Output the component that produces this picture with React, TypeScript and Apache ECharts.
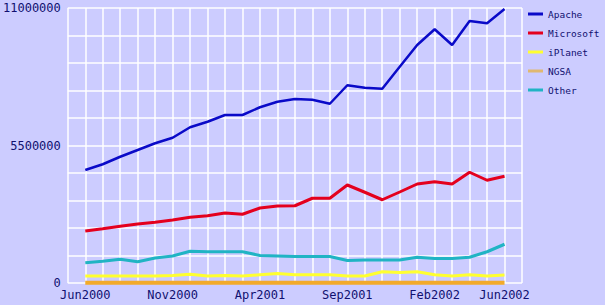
import React, { useEffect, useRef } from "react";
import * as echarts from "echarts";

const months = [
  "Jun2000", "Jul2000", "Aug2000", "Sep2000", "Oct2000", "Nov2000", "Dec2000",
  "Jan2001", "Feb2001", "Mar2001", "Apr2001", "May2001", "Jun2001", "Jul2001",
  "Aug2001", "Sep2001", "Oct2001", "Nov2001", "Dec2001", "Jan2002", "Feb2002",
  "Mar2002", "Apr2002", "May2002", "Jun2002",
];
const tickLabels = ["Jun2000", "Nov2000", "Apr2001", "Sep2001", "Feb2002", "Jun2002"];
const yTickLabels = [0, 5500000, 11000000];

const apache = [
  4520000, 4750000, 5050000, 5320000, 5590000, 5810000, 6230000, 6450000, 6720000,
  6720000, 7030000, 7250000, 7360000, 7330000, 7170000, 7910000, 7810000, 7770000,
  8650000, 9520000, 10150000, 9520000, 10480000, 10390000, 10960000,
];
const microsoft = [
  2080000, 2170000, 2270000, 2360000, 2430000, 2520000, 2630000, 2690000, 2800000,
  2750000, 3000000, 3080000, 3090000, 3390000, 3390000, 3920000, 3630000, 3330000,
  3640000, 3960000, 4050000, 3960000, 4430000, 4110000, 4270000,
];
const iplanet = [
  280000, 280000, 280000, 280000, 280000, 300000, 350000, 280000, 300000, 280000,
  330000, 380000, 330000, 330000, 330000, 280000, 280000, 450000, 420000, 450000,
  330000, 280000, 330000, 280000, 320000,
];
const ncsa = [
  15000, 15000, 15000, 15000, 15000, 15000, 15000, 15000, 15000, 15000, 15000, 15000,
  15000, 15000, 15000, 15000, 15000, 15000, 15000, 15000, 15000, 15000, 15000, 15000,
  15000,
];
const other = [
  810000, 870000, 950000, 850000, 1000000, 1080000, 1270000, 1250000, 1250000,
  1250000, 1100000, 1080000, 1060000, 1060000, 1060000, 900000, 920000, 920000,
  920000, 1030000, 980000, 980000, 1030000, 1250000, 1550000,
];

const seriesDefs = [
  { name: "Apache", data: apache, color: "#0a0ac8", legend: "#0a0ac8", width: 2.5 },
  { name: "Microsoft", data: microsoft, color: "#e4001e", legend: "#e4001e", width: 3 },
  { name: "iPlanet", data: iplanet, color: "#ffff30", legend: "#ffff30", width: 3 },
  { name: "NGSA", data: ncsa, color: "#f2aa2a", legend: "#e0b870", width: 4 },
  { name: "Other", data: other, color: "#20b4c4", legend: "#20b4c4", width: 3 },
];

const TEXT = "#101070";
const FONT = "'DejaVu Sans Mono', monospace";

export default function App() {
  const ref = useRef<HTMLDivElement>(null);
  useEffect(() => {
    if (!ref.current) return;
    const chart = echarts.init(ref.current, null, { renderer: "svg" });
    chart.setOption({
      animation: false,
      backgroundColor: "#ccccff",
      grid: { left: 63, top: 8, width: 459, height: 275, containLabel: false },
      xAxis: {
        type: "value",
        min: -1,
        max: 25,
        interval: 1,
        axisLine: { show: false },
        axisTick: { show: false },
        splitLine: { show: true, lineStyle: { color: "#ffffff", width: 1.5 } },
        axisLabel: {
          color: TEXT,
          fontFamily: FONT,
          fontSize: 12,
          margin: 6,
          showMinLabel: true,
          showMaxLabel: true,
          formatter: (v: number) => {
            const m = months[v];
            return m && tickLabels.indexOf(m) >= 0 ? m : "";
          },
        },
      },
      yAxis: {
        type: "value",
        min: 0,
        max: 11000000,
        interval: 1100000,
        axisLine: { show: false },
        axisTick: { show: false },
        splitLine: { show: true, lineStyle: { color: "#ffffff", width: 1.5 } },
        axisLabel: {
          color: TEXT,
          fontFamily: FONT,
          fontSize: 12,
          margin: 7,
          formatter: (v: number) => (yTickLabels.indexOf(Math.round(v)) >= 0 ? String(Math.round(v)) : ""),
        },
      },
      legend: {
        orient: "vertical",
        left: 528,
        top: 8,
        padding: 0,
        icon: "rect",
        itemWidth: 15,
        itemHeight: 3,
        itemGap: 7,
        textStyle: { color: TEXT, fontFamily: FONT, fontSize: 9.5, height: 12, lineHeight: 12 },
        data: seriesDefs.map((s) => ({ name: s.name, itemStyle: { color: s.legend } })),
      },
      series: seriesDefs.map((s) => ({
        name: s.name,
        type: "line",
        data: s.data.map((v, i) => [i, v]),
        showSymbol: false,
        symbol: "none",
        color: s.color,
        lineStyle: { color: s.color, width: s.width },
      })),
    });
    return () => chart.dispose();
  }, []);
  return <div ref={ref} style={{ width: 605, height: 305, position: "absolute", left: 0, top: 0 }} />;
}
